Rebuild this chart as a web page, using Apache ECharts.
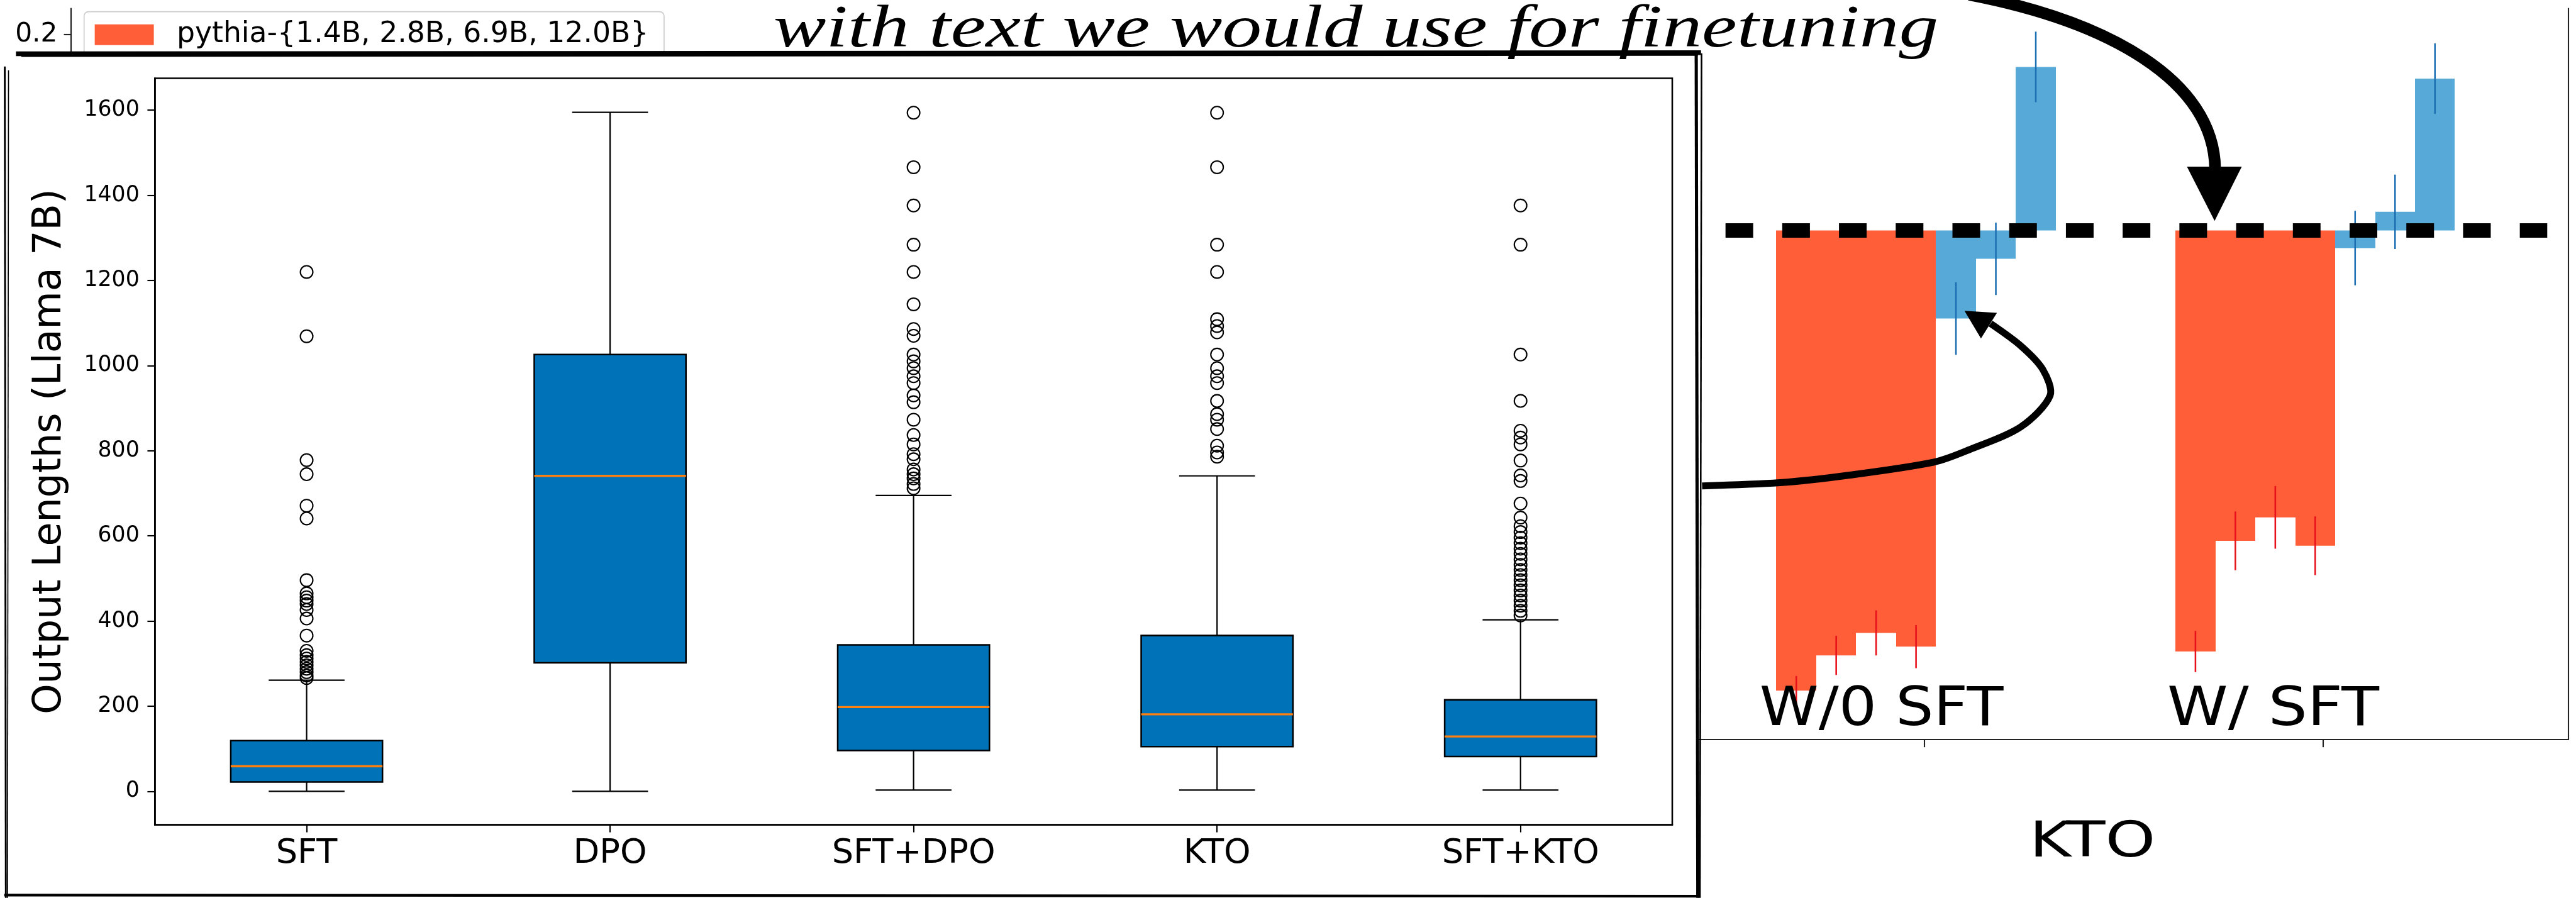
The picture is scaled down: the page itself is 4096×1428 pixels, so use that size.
<!DOCTYPE html>
<html>
<head>
<meta charset="utf-8">
<script src="https://cdn.jsdelivr.net/npm/echarts@6/dist/echarts.min.js"></script>
<style>
  html, body { margin: 0; padding: 0; background: #ffffff; }
  #chart { width: 4096px; height: 1428px; }
</style>
</head>
<body>
<div id="chart"></div>
<script>
// ---------- Output lengths per training recipe (Llama 7B) ----------
const methods = ['SFT', 'DPO', 'SFT+DPO', 'KTO', 'SFT+KTO'];
const lengthMin = [0, 0, 3, 3, 3];
const lengthQ1 = [22, 302, 96, 105, 82];
const lengthMedian = [59, 741, 198, 181, 129];
const lengthQ3 = [119, 1026, 344, 366, 215];
const lengthMax = [261, 1595, 695, 741, 403];
const outliersSFT = [1220, 1069, 778, 745, 671, 641, 496, 465, 456, 448, 440, 426, 406, 366, 330, 320, 312, 304, 296, 288, 280, 272, 266];
const outliersDPO = [];
const outliersSFTDPO = [1594, 1466, 1376, 1284, 1220, 1144, 1086, 1070, 1026, 1010, 994, 975, 959, 930, 914, 873, 837, 815, 792, 780, 756, 745, 735, 722, 712];
const outliersKTO = [1594, 1466, 1284, 1220, 1109, 1093, 1078, 1026, 994, 975, 959, 917, 886, 873, 851, 812, 796, 786];
const outliersSFTKTO = [1376, 1284, 1026, 917, 847, 831, 815, 777, 742, 729, 676, 643, 623, 609, 596, 583, 570, 558, 545, 532, 520, 508, 496, 484, 472, 460, 448, 436, 424, 413];
const lengthTicks = [0, 200, 400, 600, 800, 1000, 1200, 1400, 1600];

// ---------- Change relative to the reference line (bars behind) ----------
const settings = ['W/0 SFT', 'W/ SFT'];
const pythiaLabel = 'pythia-{1.4B, 2.8B, 6.9B, 12.0B}';
const llamaLabel = 'llama-{7B, 13B, 30B}';
const pythiaDelta = [[-0.470, -0.434, -0.411, -0.425], [-0.430, -0.317, -0.293, -0.322]];
const pythiaErr = [[0.015, 0.020, 0.023, 0.022], [0.021, 0.030, 0.032, 0.030]];
const llamaDelta = [[-0.090, -0.029, 0.167], [-0.018, 0.019, 0.155]];
const llamaErr = [[0.037, 0.037, 0.036], [0.038, 0.038, 0.036]];
const deltaTicks = [-0.5, -0.4, -0.3, -0.2, -0.1, 0, 0.1, 0.2];

// ---------- layout helpers ----------
const S = 4096 / 4840;
const px = v => v * S;
const BAR_W = 0.1;             // bar width in group units
const FIRST_OFFSET = -0.32;    // centre of first bar relative to group tick

function fitScale(text, font, width) {
  const ctx = document.createElement('canvas').getContext('2d');
  ctx.font = font;
  return width / ctx.measureText(text).width;
}

const outlierLists = [outliersSFT, outliersDPO, outliersSFTDPO, outliersKTO, outliersSFTKTO];
const boxData = methods.map((m, i) => [i, lengthMin[i], lengthQ1[i], lengthMedian[i], lengthQ3[i], lengthMax[i]]);
const outlierData = [];
outlierLists.forEach((list, i) => list.forEach(v => outlierData.push([i, v])));

const pythiaData = [];
const llamaData = [];
settings.forEach((s, g) => {
  pythiaDelta[g].forEach((v, i) => pythiaData.push([g + FIRST_OFFSET + i * BAR_W, v, pythiaErr[g][i]]));
  llamaDelta[g].forEach((v, i) => llamaData.push([g + FIRST_OFFSET + (4 + i) * BAR_W, v, llamaErr[g][i]]));
});

function barRenderer(fill, errColor) {
  return function (params, api) {
    const x = api.value(0), v = api.value(1), e = api.value(2);
    const a = api.coord([x - BAR_W / 2, 0]);
    const b = api.coord([x + BAR_W / 2, v]);
    const t = api.coord([x, v + e]);
    const d = api.coord([x, v - e]);
    // snap the sides to whole pixels so neighbouring bars meet without seams
    const x0 = Math.round(a[0]), x1 = Math.round(b[0]);
    return {
      type: 'group',
      children: [
        { type: 'rect', shape: { x: x0, y: Math.min(a[1], b[1]), width: x1 - x0, height: Math.abs(b[1] - a[1]) }, style: { fill: fill } },
        { type: 'line', shape: { x1: t[0], y1: t[1], x2: d[0], y2: d[1] }, style: { stroke: errColor, lineWidth: px(3) } }
      ]
    };
  };
}

function boxRenderer(params, api) {
  const c = api.value(0);
  const band = api.size([1, 0])[0];
  const half = band * 0.25, capHalf = band * 0.125;
  const pMin = api.coord([c, api.value(1)]);
  const xc = pMin[0], yMin = pMin[1];
  const yQ1 = api.coord([c, api.value(2)])[1];
  const yMed = api.coord([c, api.value(3)])[1];
  const yQ3 = api.coord([c, api.value(4)])[1];
  const yMax = api.coord([c, api.value(5)])[1];
  const w = { stroke: '#000', lineWidth: px(2.6) };
  return {
    type: 'group',
    children: [
      { type: 'line', shape: { x1: xc, y1: yQ3, x2: xc, y2: yMax }, style: w },
      { type: 'line', shape: { x1: xc, y1: yQ1, x2: xc, y2: yMin }, style: w },
      { type: 'line', shape: { x1: xc - capHalf, y1: yMax, x2: xc + capHalf, y2: yMax }, style: w },
      { type: 'line', shape: { x1: xc - capHalf, y1: yMin, x2: xc + capHalf, y2: yMin }, style: w },
      { type: 'rect', shape: { x: xc - half, y: yQ3, width: 2 * half, height: yQ1 - yQ3 }, style: { fill: '#0072B7', stroke: '#000', lineWidth: px(3) } },
      { type: 'line', shape: { x1: xc - half, y1: yMed, x2: xc + half, y2: yMed }, style: { stroke: '#FF7F0E', lineWidth: px(4) } }
    ]
  };
}

const titleText = 'with text we would use for finetuning';
const titleFont = 'italic ' + px(112) + 'px "Liberation Serif", "DejaVu Serif", serif';
const noteFont = px(100) + 'px "DejaVu Sans", sans-serif';
const ktoFont = px(92) + 'px "DejaVu Sans", sans-serif';

const chart = echarts.init(document.getElementById('chart'), null, { renderer: 'canvas' });

chart.setOption({
  animation: false,
  backgroundColor: '#ffffff',
  grid: [
    { left: px(291), top: px(147), width: px(2851), height: px(1403), show: true, borderColor: '#000', borderWidth: px(3), backgroundColor: 'transparent', z: 10, containLabel: false, outerBoundsMode: 'none' },
    { left: px(133), top: px(16), width: px(4693), height: px(1373), show: false, z: 1, containLabel: false, outerBoundsMode: 'none' }
  ],
  legend: {
    data: [pythiaLabel],
    left: px(158), top: px(22),
    orient: 'vertical',
    icon: 'rect',
    itemWidth: px(111), itemHeight: px(39),
    padding: [px(16), px(29), px(16), px(20)],
    backgroundColor: 'rgba(255,255,255,0.8)',
    borderColor: '#cccccc', borderWidth: px(2), borderRadius: px(8),
    textStyle: { fontSize: px(54), color: '#000', fontFamily: 'DejaVu Sans', padding: [0, 0, 0, px(43) - 5] },
    selectedMode: false,
    z: 4
  },
  xAxis: [
    {
      gridIndex: 0, type: 'category', data: methods, z: 11,
      axisLine: { show: true, onZero: false, lineStyle: { color: '#000', width: px(3) } },
      axisTick: { show: true, alignWithLabel: true, interval: 0, length: px(14), lineStyle: { color: '#000', width: px(2.5) } },
      axisLabel: { interval: 0, fontSize: px(64), fontFamily: 'DejaVu Sans', color: '#000', margin: px(23) },
      splitLine: { show: false }
    },
    {
      gridIndex: 1, type: 'value', min: -4.64267, max: 1.61467, z: 1,
      axisLine: { show: true, onZero: false, lineStyle: { color: '#222', width: px(2.5) } },
      axisTick: { show: true, customValues: [0, 1], length: px(15), lineStyle: { color: '#222', width: px(2.5) } },
      axisLabel: { show: false },
      splitLine: { show: false }
    }
  ],
  yAxis: [
    {
      gridIndex: 0, type: 'value', min: -78.75, max: 1675, z: 11,
      name: 'Output Lengths (Llama 7B)', nameLocation: 'middle', nameRotate: 90, nameGap: px(160),
      nameTextStyle: { fontSize: px(73), color: '#000', fontFamily: 'DejaVu Sans' },
      axisLine: { show: true, onZero: false, lineStyle: { color: '#000', width: px(3) } },
      axisTick: { show: true, customValues: lengthTicks, length: px(14), lineStyle: { color: '#000', width: px(2.5) } },
      axisLabel: { customValues: lengthTicks, formatter: v => String(v), fontSize: px(41), fontFamily: 'DejaVu Sans', color: '#000', margin: px(29) },
      splitLine: { show: false }
    },
    {
      gridIndex: 1, type: 'value', min: -0.519565, max: 0.22663, z: 1,
      axisLine: { show: true, onZero: false, lineStyle: { color: '#222', width: px(2.5) } },
      axisTick: { show: true, customValues: deltaTicks, length: px(13), lineStyle: { color: '#222', width: px(2.5) } },
      axisLabel: { customValues: deltaTicks, formatter: v => v.toFixed(1), fontSize: px(50), fontFamily: 'DejaVu Sans', color: '#000', margin: px(25) },
      splitLine: { show: false }
    },
    {
      gridIndex: 1, type: 'value', position: 'right', min: -0.519565, max: 0.22663, z: 1,
      axisLine: { show: true, onZero: false, lineStyle: { color: '#222', width: px(2.5) } },
      axisTick: { show: false }, axisLabel: { show: false }, splitLine: { show: false }
    }
  ],
  series: [
    {
      name: pythiaLabel, type: 'custom', xAxisIndex: 1, yAxisIndex: 1, z: 2,
      itemStyle: { color: '#FF5E38' },
      renderItem: barRenderer('#FF5E38', '#E8101A'),
      encode: { x: 0, y: 1 }, data: pythiaData, clip: false, silent: true
    },
    {
      name: llamaLabel, type: 'custom', xAxisIndex: 1, yAxisIndex: 1, z: 2,
      itemStyle: { color: '#57AAD7' },
      renderItem: barRenderer('#57AAD7', '#1C6FB2'),
      encode: { x: 0, y: 1 }, data: llamaData, clip: false, silent: true
    },
    {
      name: 'reference', type: 'line', xAxisIndex: 1, yAxisIndex: 1, z: 3, data: [], silent: true,
      markLine: {
        silent: true, symbol: 'none', label: { show: false },
        lineStyle: { color: '#000', width: px(27), type: [px(52), px(54.6)], cap: 'butt' },
        emphasis: { disabled: true },
        data: [[{ coord: [-0.4973, 0] }, { coord: [1.5613, 0] }]]
      }
    },
    {
      name: 'lengths', type: 'custom', xAxisIndex: 0, yAxisIndex: 0, z: 12,
      renderItem: boxRenderer, encode: { x: 0, y: [1, 2, 3, 4, 5] }, data: boxData, silent: true
    },
    {
      name: 'outliers', type: 'scatter', xAxisIndex: 0, yAxisIndex: 0, z: 13, silent: true,
      symbol: 'circle', symbolSize: px(23.5),
      itemStyle: { color: 'rgba(0,0,0,0)', borderColor: '#000', borderWidth: px(2.5), opacity: 1 },
      data: outlierData
    }
  ],
  graphic: [
    // white panel holding the box plot
    { type: 'rect', z: 5, silent: true, shape: { x: px(8), y: px(98), width: px(3182), height: px(1600) }, style: { fill: '#ffffff' } },
    // hand-drawn frame strokes
    { type: 'line', z: 14, silent: true, shape: { x1: px(30), y1: px(101), x2: px(3196), y2: px(99) }, style: { stroke: '#000', lineWidth: px(9) } },
    { type: 'line', z: 14, silent: true, shape: { x1: px(40), y1: px(105), x2: px(3190), y2: px(103) }, style: { stroke: '#000', lineWidth: px(4) } },
    { type: 'line', z: 14, silent: true, shape: { x1: px(3187), y1: px(97), x2: px(3190), y2: px(1687) }, style: { stroke: '#000', lineWidth: px(6) } },
    { type: 'line', z: 14, silent: true, shape: { x1: px(3197), y1: px(100), x2: px(3194), y2: px(1687) }, style: { stroke: '#000', lineWidth: px(3) } },
    { type: 'line', z: 14, silent: true, shape: { x1: px(9), y1: px(125), x2: px(11), y2: px(1687) }, style: { stroke: '#000', lineWidth: px(3.5) } },
    { type: 'line', z: 14, silent: true, shape: { x1: px(16), y1: px(132), x2: px(14), y2: px(1687) }, style: { stroke: '#000', lineWidth: px(2) } },
    { type: 'line', z: 14, silent: true, shape: { x1: px(8), y1: px(1682), x2: px(3192), y2: px(1684) }, style: { stroke: '#000', lineWidth: px(5) } },
    // handwritten notes
    {
      type: 'text', z: 20, silent: true, x: px(1453), y: px(58),
      scaleX: fitScale(titleText, titleFont, px(2189)),
      style: { text: titleText, font: titleFont, fill: '#000', align: 'left', verticalAlign: 'middle' }
    },
    {
      type: 'text', z: 20, silent: true, x: px(3306), y: px(1336),
      scaleX: fitScale(settings[0], noteFont, px(458)),
      style: { text: settings[0], font: noteFont, fill: '#000', align: 'left', verticalAlign: 'middle' }
    },
    {
      type: 'text', z: 20, silent: true, x: px(4072), y: px(1336),
      scaleX: fitScale(settings[1], noteFont, px(398)),
      style: { text: settings[1], font: noteFont, fill: '#000', align: 'left', verticalAlign: 'middle' }
    },
    {
      type: 'text', z: 20, silent: true, x: px(3813), y: px(1585),
      scaleX: fitScale('KTO', ktoFont, px(237)),
      style: { text: 'KTO', font: ktoFont, fill: '#000', align: 'left', verticalAlign: 'middle' }
    },
    // big arrow from the note down to the reference line
    {
      type: 'bezierCurve', z: 20, silent: true,
      shape: { x1: px(3700), y1: px(-10), cpx1: px(3960), cpy1: px(40), cpx2: px(4160), cpy2: px(150), x2: px(4162), y2: px(318) },
      style: { stroke: '#000', lineWidth: px(22), fill: null }
    },
    {
      type: 'polygon', z: 20, silent: true,
      shape: { points: [[px(4109), px(313)], [px(4212), px(313)], [px(4161), px(415)]] },
      style: { fill: '#000' }
    },
    // curved arrow from the box plot panel to the shortened llama bar
    {
      type: 'polyline', z: 20, silent: true,
      shape: {
        points: [[px(3198), px(913)], [px(3344), px(907)], [px(3473), px(893)], [px(3635), px(868)], [px(3700), px(845)],
                 [px(3797), px(802)], [px(3852), px(743)], [px(3838), px(694)], [px(3797), px(650)], [px(3740), px(608)]],
        smooth: 0.3
      },
      style: { stroke: '#000', lineWidth: px(13), fill: null }
    },
    {
      type: 'polygon', z: 20, silent: true,
      shape: { points: [[px(3691), px(584)], [px(3752), px(588)], [px(3722), px(636)]] },
      style: { fill: '#000' }
    }
  ]
});
</script>
</body>
</html>
